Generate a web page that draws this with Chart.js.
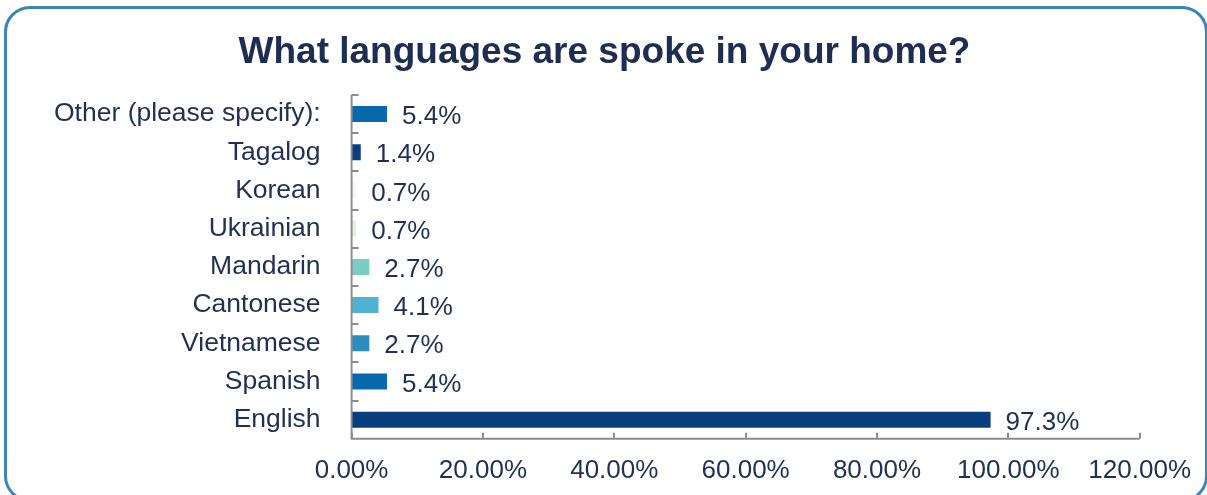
<!DOCTYPE html>
<html>
<head>
<meta charset="utf-8">
<script src="https://cdn.jsdelivr.net/npm/chart.js@4/dist/chart.umd.min.js"></script>
<style>
  html, body { margin: 0; padding: 0; background: #fff; }
  #wrap { position: relative; width: 1207px; height: 495px; overflow: hidden; }
  #frame {
    position: absolute; left: 4px; top: 6px; width: 1204px; height: 496px;
    border: 3px solid #3a87b5; border-radius: 26px; box-sizing: border-box;
  }
  canvas { position: absolute; left: 0; top: 0; }
</style>
</head>
<body>
<div id="wrap">
  <div id="frame"></div>
  <canvas id="chart" width="1207" height="495"></canvas>
</div>
<script>
// === chart data ===
const chartTitle = "What languages are spoke in your home?";
const languages = [
  "Other (please specify):", "Tagalog", "Korean", "Ukrainian", "Mandarin",
  "Cantonese", "Vietnamese", "Spanish", "English"
];
const sharePct = [5.4, 1.4, 0.7, 0.7, 2.7, 4.1, 2.7, 5.4, 97.3];
const barColors = [
  "#0868ac", "#0b3f80", "#f4fbee", "#e0f3db", "#7bccc4",
  "#4eb3d3", "#2b8cbe", "#0868ac", "#0a3f7f"
];
const xTicks = [0, 20, 40, 60, 80, 100, 120];

const textColor = "#1f2f55";
const axisColor = "#8c8c94";
const fontFamily = "'Liberation Sans', Arial, sans-serif";

// title centred on the whole card (Chart.js title would centre on the padded box)
const cardTitle = {
  id: "cardTitle",
  afterDraw(chart) {
    const ctx = chart.ctx;
    ctx.save();
    ctx.font = "bold 37px " + fontFamily;
    ctx.fillStyle = "#1e2d52";
    ctx.textAlign = "center";
    ctx.textBaseline = "middle";
    ctx.fillText(chartTitle, chart.width / 2 + 1, 53);
    ctx.restore();
  }
};

// value labels at the end of each bar
const valueLabels = {
  id: "valueLabels",
  afterDatasetsDraw(chart) {
    const ctx = chart.ctx;
    const meta = chart.getDatasetMeta(0);
    ctx.save();
    ctx.font = "26px " + fontFamily;
    ctx.fillStyle = textColor;
    ctx.textAlign = "left";
    ctx.textBaseline = "middle";
    meta.data.forEach((bar, i) => {
      ctx.fillText(sharePct[i].toFixed(1) + "%", bar.x + 15, bar.y + 3);
    });
    ctx.restore();
  }
};

// small inward tick marks like the original
const innerTicks = {
  id: "innerTicks",
  afterDraw(chart) {
    const ctx = chart.ctx;
    const x = chart.scales.x, y = chart.scales.y;
    const area = chart.chartArea;
    ctx.save();
    ctx.strokeStyle = axisColor;
    ctx.lineWidth = 2;
    ctx.beginPath();
    // axis lines
    ctx.moveTo(area.left, area.top);
    ctx.lineTo(area.left, area.bottom);
    ctx.lineTo(area.right, area.bottom);
    xTicks.forEach(v => {
      const px = Math.round(x.getPixelForValue(v));
      ctx.moveTo(px, area.bottom);
      ctx.lineTo(px, area.bottom - 6);
    });
    for (let i = 0; i < languages.length; i++) {
      const py = Math.round(y.getPixelForValue(i - 0.5));
      ctx.moveTo(area.left, py);
      ctx.lineTo(area.left + 7, py);
    }
    ctx.stroke();
    ctx.restore();
  }
};

new Chart(document.getElementById("chart"), {
  type: "bar",
  data: {
    labels: languages,
    datasets: [{
      data: sharePct,
      backgroundColor: barColors,
      barPercentage: 0.42,
      categoryPercentage: 1
    }]
  },
  options: {
    indexAxis: "y",
    responsive: false,
    animation: false,
    layout: { padding: { left: 23, right: 67, top: 95, bottom: -7 } },
    plugins: {
      legend: { display: false },
      tooltip: { enabled: false },
      title: { display: false }
    },
    scales: {
      x: {
        min: 0,
        max: 120,
        afterBuildTicks: (scale) => { scale.ticks = xTicks.map(v => ({ value: v })); },
        ticks: {
          color: textColor,
          padding: 16,
          maxRotation: 0,
          font: { family: fontFamily, size: 26 },
          callback: (v) => Number(v).toFixed(2) + "%"
        },
        grid: { display: false, drawTicks: false },
        border: { display: false }
      },
      y: {
        ticks: {
          color: textColor,
          padding: 31,
          font: { family: fontFamily, size: 26.5 }
        },
        grid: { display: false, drawTicks: false },
        border: { display: false }
      }
    }
  },
  plugins: [valueLabels, innerTicks, cardTitle]
});
</script>
</body>
</html>
